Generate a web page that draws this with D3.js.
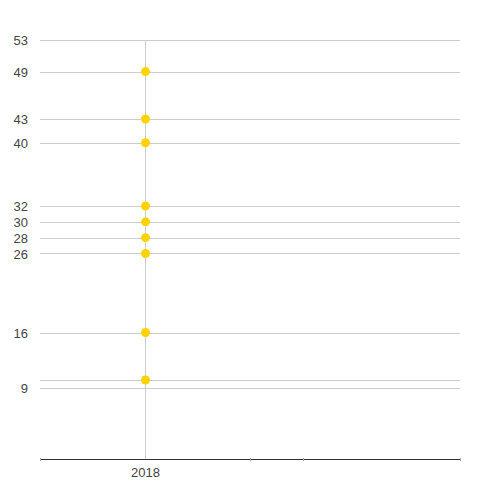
<!DOCTYPE html>
<html>
<head>
<meta charset="utf-8">
<script src="https://cdn.jsdelivr.net/npm/d3@7/dist/d3.min.js"></script>
<style>
  html, body { margin: 0; padding: 0; background: #fff; }
  text { font-family: "Liberation Sans", Arial, sans-serif; }
</style>
</head>
<body>
<svg id="chart" width="500" height="500"></svg>
<script>
// Category on the x axis
const categories = ["2018"];
const categoryPos = [1];

// Values plotted for 2018
const values = [49, 43, 40, 32, 30, 28, 26, 16, 10];

// Y-axis gridline values and which ones carry a label
const yTicks = [53, 49, 43, 40, 32, 30, 28, 26, 16, 10, 9];
const yTickLabels = ["53", "49", "43", "40", "32", "30", "28", "26", "16", "", "9"];

// Minor marks along the baseline
const xMarks = [0, 2, 2.5, 4];

const svg = d3.select("#chart");
const plotLeft = 40, plotRight = 460, plotTop = 40, plotBottom = 459;

const x = d3.scaleLinear().domain([0, 4]).range([plotLeft, plotRight]);
const y = d3.scaleLinear().domain([0, 53]).range([plotBottom, plotTop]);

// Horizontal gridlines with labels
const yAxis = d3.axisLeft(y)
  .tickValues(yTicks)
  .tickSize(-(plotRight - plotLeft))
  .tickFormat((d, i) => yTickLabels[i]);

const gy = svg.append("g")
  .attr("transform", `translate(${plotLeft},0)`)
  .call(yAxis);
gy.select(".domain").remove();
gy.selectAll(".tick line").attr("stroke", "#cccccc").attr("shape-rendering", "crispEdges");
gy.selectAll(".tick text")
  .attr("x", -12)
  .attr("dy", "0.36em")
  .attr("fill", "#444")
  .style("font-size", "13px");

// Vertical gridline per category
const gx = svg.append("g")
  .attr("transform", `translate(0,${plotBottom})`)
  .call(d3.axisBottom(x)
    .tickValues(categoryPos)
    .tickSize(-(plotBottom - plotTop))
    .tickFormat((d, i) => categories[i]));
gx.select(".domain").remove();
gx.selectAll(".tick line").attr("stroke", "#cccccc").attr("shape-rendering", "crispEdges");
gx.selectAll(".tick text")
  .attr("y", 9)
  .attr("dy", "0.71em")
  .attr("fill", "#444")
  .style("font-size", "13px");

// Baseline
svg.append("line")
  .attr("x1", plotLeft).attr("x2", plotRight)
  .attr("y1", plotBottom + 0.5).attr("y2", plotBottom + 0.5)
  .attr("stroke", "#333").attr("stroke-width", 1);

svg.append("g").selectAll("line")
  .data(xMarks)
  .join("line")
  .attr("x1", d => Math.round(x(d)) + 0.5)
  .attr("x2", d => Math.round(x(d)) + 0.5)
  .attr("y1", plotBottom - 1)
  .attr("y2", plotBottom + 2)
  .attr("stroke", "#aaa");

// Points
svg.append("g").selectAll("circle")
  .data(values)
  .join("circle")
  .attr("cx", x(categoryPos[0]) + 0.5)
  .attr("cy", d => y(d))
  .attr("r", 4.5)
  .attr("fill", "#FFD200");
</script>
</body>
</html>
